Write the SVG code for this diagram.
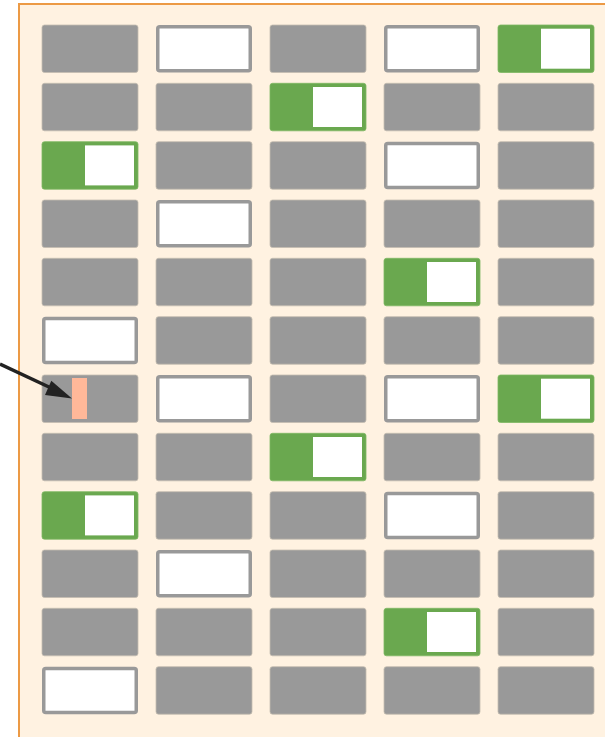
<svg xmlns="http://www.w3.org/2000/svg" width="605" height="737" viewBox="0 0 605 737">
<defs>
<style>
.g{fill:#999999;stroke:#c4bcb0;stroke-width:0.8}
.w{fill:#ffffff;stroke:#999999;stroke-width:3.5}
.n{fill:#6aa84f;stroke:#7db862;stroke-width:0.8}
.ni{fill:#ffffff}
.bg{fill:#fff2e1;stroke:#ec9a45;stroke-width:2}
</style>
<symbol id="G" overflow="visible"><rect class="g" x="0" y="0" width="96" height="47.5" rx="2.5"/></symbol>
<symbol id="W" overflow="visible"><rect class="w" x="1.75" y="1.75" width="92.5" height="44" rx="2"/></symbol>
<symbol id="N" overflow="visible"><rect class="n" x="0" y="0" width="96" height="47.5" rx="2.5"/><rect class="ni" x="43" y="3.7" width="49" height="40"/></symbol>
</defs>
<rect class="bg" x="19" y="4" width="600" height="750"/>
<g id="r1">
<use id="c1-1" href="#G" x="42" y="25"/><use id="c1-2" href="#W" x="156" y="25"/><use id="c1-3" href="#G" x="270" y="25"/><use id="c1-4" href="#W" x="384" y="25"/><use id="c1-5" href="#N" x="498" y="25"/>
</g>
<g id="r2">
<use id="c2-1" href="#G" x="42" y="83.3"/><use id="c2-2" href="#G" x="156" y="83.3"/><use id="c2-3" href="#N" x="270" y="83.3"/><use id="c2-4" href="#G" x="384" y="83.3"/><use id="c2-5" href="#G" x="498" y="83.3"/>
</g>
<g id="r3">
<use id="c3-1" href="#N" x="42" y="141.7"/><use id="c3-2" href="#G" x="156" y="141.7"/><use id="c3-3" href="#G" x="270" y="141.7"/><use id="c3-4" href="#W" x="384" y="141.7"/><use id="c3-5" href="#G" x="498" y="141.7"/>
</g>
<g id="r4">
<use id="c4-1" href="#G" x="42" y="200"/><use id="c4-2" href="#W" x="156" y="200"/><use id="c4-3" href="#G" x="270" y="200"/><use id="c4-4" href="#G" x="384" y="200"/><use id="c4-5" href="#G" x="498" y="200"/>
</g>
<g id="r5">
<use id="c5-1" href="#G" x="42" y="258.3"/><use id="c5-2" href="#G" x="156" y="258.3"/><use id="c5-3" href="#G" x="270" y="258.3"/><use id="c5-4" href="#N" x="384" y="258.3"/><use id="c5-5" href="#G" x="498" y="258.3"/>
</g>
<g id="r6">
<use id="c6-1" href="#W" x="42" y="316.7"/><use id="c6-2" href="#G" x="156" y="316.7"/><use id="c6-3" href="#G" x="270" y="316.7"/><use id="c6-4" href="#G" x="384" y="316.7"/><use id="c6-5" href="#G" x="498" y="316.7"/>
</g>
<g id="r7">
<g id="c7-1"><use href="#G" x="42" y="375"/><rect x="72" y="378" width="15" height="41" fill="#ffb899"/></g>
<use id="c7-2" href="#W" x="156" y="375"/><use id="c7-3" href="#G" x="270" y="375"/><use id="c7-4" href="#W" x="384" y="375"/><use id="c7-5" href="#N" x="498" y="375"/>
</g>
<g id="r8">
<use id="c8-1" href="#G" x="42" y="433.3"/><use id="c8-2" href="#G" x="156" y="433.3"/><use id="c8-3" href="#N" x="270" y="433.3"/><use id="c8-4" href="#G" x="384" y="433.3"/><use id="c8-5" href="#G" x="498" y="433.3"/>
</g>
<g id="r9">
<use id="c9-1" href="#N" x="42" y="491.7"/><use id="c9-2" href="#G" x="156" y="491.7"/><use id="c9-3" href="#G" x="270" y="491.7"/><use id="c9-4" href="#W" x="384" y="491.7"/><use id="c9-5" href="#G" x="498" y="491.7"/>
</g>
<g id="r10">
<use id="c10-1" href="#G" x="42" y="550"/><use id="c10-2" href="#W" x="156" y="550"/><use id="c10-3" href="#G" x="270" y="550"/><use id="c10-4" href="#G" x="384" y="550"/><use id="c10-5" href="#G" x="498" y="550"/>
</g>
<g id="r11">
<use id="c11-1" href="#G" x="42" y="608.3"/><use id="c11-2" href="#G" x="156" y="608.3"/><use id="c11-3" href="#G" x="270" y="608.3"/><use id="c11-4" href="#N" x="384" y="608.3"/><use id="c11-5" href="#G" x="498" y="608.3"/>
</g>
<g id="r12">
<use id="c12-1" href="#W" x="42" y="666.7"/><use id="c12-2" href="#G" x="156" y="666.7"/><use id="c12-3" href="#G" x="270" y="666.7"/><use id="c12-4" href="#G" x="384" y="666.7"/><use id="c12-5" href="#G" x="498" y="666.7"/>
</g>
<g id="connectors">
<line x1="0" y1="364" x2="50" y2="387.5" stroke="#222222" stroke-width="3.5"/>
<polygon points="72,398.5 51.3,380.7 45,395" fill="#222222"/>
</g>
</svg>
